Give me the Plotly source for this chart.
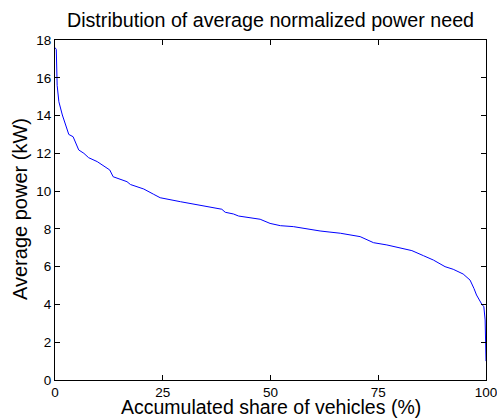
import plotly.graph_objects as go

# Accumulated share of vehicles (%) and average power (kW)
share = [0.0, 0.3, 0.5, 0.9, 1.7, 2.2, 2.7, 3.2, 4.2, 4.75, 5.5, 6.7, 7.8, 9.8,
         11.3, 12.7, 13.5, 16.7, 17.5, 20.6, 22.9, 24.4, 29.1, 34.5, 38.7, 39.5,
         41.4, 42.6, 47.6, 49.9, 52.3, 55.3, 58.4, 61.5, 63.8, 66.2, 70.8, 73.9,
         77.0, 80.1, 82.8, 85.5, 87.8, 90.5, 92.4, 94.7, 96.3, 97.2, 97.8, 99.0,
         99.5, 99.8, 100.0]
power = [17.6, 17.5, 15.6, 14.73, 14.03, 13.67, 13.32, 13.0, 12.88, 12.62, 12.18,
         12.0, 11.77, 11.56, 11.33, 11.12, 10.76, 10.5, 10.35, 10.11, 9.83, 9.65,
         9.44, 9.21, 9.04, 8.88, 8.79, 8.68, 8.51, 8.29, 8.17, 8.12, 7.99, 7.89,
         7.83, 7.77, 7.59, 7.27, 7.15, 6.97, 6.85, 6.58, 6.35, 6.0, 5.86, 5.61,
         5.29, 4.85, 4.5, 4.02, 3.88, 3.18, 1.0]

x_ticks = [0, 25, 50, 75, 100]
y_ticks = [0, 2, 4, 6, 8, 10, 12, 14, 16, 18]

FONT = "Liberation Sans, Arial, Helvetica, sans-serif"
W, H = 497, 419

fig = go.Figure()
fig.add_trace(go.Scatter(x=share, y=power, mode="lines",
                         line=dict(color="#0000FF", width=1)))

axis_common = dict(showline=True, linecolor="black", linewidth=1, mirror="ticks",
                   ticks="inside", ticklen=5, tickcolor="black", tickwidth=1,
                   showgrid=False, zeroline=False, automargin=False,
                   ticklabeloverflow="allow",
                   tickfont=dict(family=FONT, size=13.5, color="black"))

fig.update_layout(
    width=W, height=H,
    margin=dict(l=55, r=11, t=40, b=39, autoexpand=False),
    paper_bgcolor="white", plot_bgcolor="white",
    showlegend=False,
    title=dict(text="Distribution of average normalized power need",
               x=0.5, xanchor="center", xref="paper",
               y=1 - 20 / H, yanchor="middle", yref="container",
               font=dict(family=FONT, size=19.7, color="black")),
    xaxis=dict(range=[0, 100], tickvals=x_ticks, ticklabelstandoff=0, **axis_common),
    yaxis=dict(range=[0, 18], tickvals=y_ticks, **axis_common),
    annotations=[
        dict(text="Accumulated share of vehicles (%)", xref="paper", yref="paper",
             x=0.5, y=-(406.5 - 380) / 340, xanchor="center", yanchor="middle",
             showarrow=False, font=dict(family=FONT, size=19.5, color="black")),
        dict(text="Average power (kW)", xref="paper", yref="paper",
             x=-(55 - 20) / 431, y=(380 - 209) / 340, xanchor="center",
             yanchor="middle", textangle=-90,
             showarrow=False, font=dict(family=FONT, size=20, color="black")),
    ],
)

fig.write_html("out.html", config={"displayModeBar": False},
               post_script="document.body.style.margin='0';"
                           "document.body.style.overflow='hidden';")
